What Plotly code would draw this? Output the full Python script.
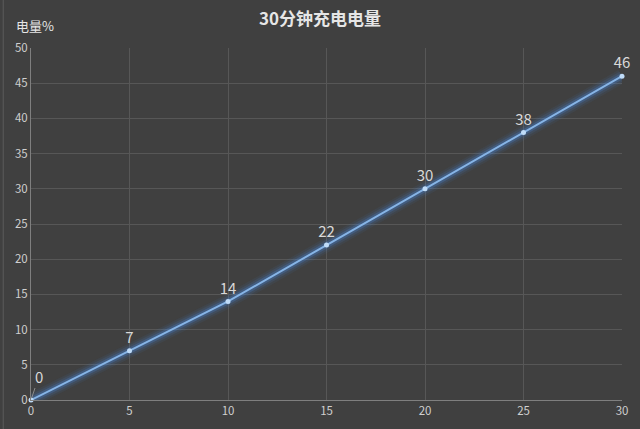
import plotly.graph_objects as go

# 充电时间(分钟)与电量(%)
minutes = [0, 5, 10, 15, 20, 25, 30]
charge = [0, 7, 14, 22, 30, 38, 46]

fig = go.Figure()

# 发光效果: 先画几条宽的半透明线
for w, a in [(14, 0.07), (10, 0.12), (6, 0.25)]:
    fig.add_trace(go.Scatter(
        x=minutes, y=charge, mode="lines",
        line=dict(color=f"rgba(70,140,230,{a})", width=w),
        hoverinfo="skip", showlegend=False, cliponaxis=False
    ))

# 第一个标签用带引线的注释, 其余直接显示在点上方
labels = [""] + [str(v) for v in charge[1:]]
fig.add_trace(go.Scatter(
    x=minutes, y=charge, mode="lines+markers+text",
    line=dict(color="#86b4e6", width=2),
    marker=dict(color="#c0dcf8", size=5),
    text=labels,
    textposition="top center",
    textfont=dict(size=15, color="#d9d9d9"),
    showlegend=False, cliponaxis=False
))

fig.update_layout(
    width=640, height=429,
    paper_bgcolor="#404040",
    plot_bgcolor="#404040",
    margin=dict(l=31, r=18, t=48, b=29, autoexpand=False),
    font=dict(family="Noto Sans CJK SC, sans-serif", color="#d9d9d9"),
    title=dict(text="<b>30分钟充电电量</b>", x=0.5, y=0.955,
               xanchor="center", yanchor="middle",
               font=dict(size=17, color="#e6e6e6")),
    annotations=[
        dict(text="电量%", x=0.007, y=1.065, xref="paper", yref="paper",
             xanchor="center", yanchor="middle", showarrow=False,
             font=dict(size=13, color="#e6e6e6")),
        dict(text=str(charge[0]), x=minutes[0], y=charge[0],
             showarrow=True, arrowhead=0, arrowwidth=1, arrowcolor="#8c8c8c",
             ax=8, ay=-24, standoff=2,
             font=dict(size=15, color="#d9d9d9")),
    ],
    # 图片左边的细边框
    shapes=[dict(type="line", xref="paper", yref="paper",
                 x0=-0.047, x1=-0.047, y0=-0.1, y1=1.2,
                 line=dict(color="#5a5a5a", width=1))]
)
fig.update_xaxes(range=[0, 30], dtick=5, showgrid=True, gridcolor="#575757",
                 zeroline=False, showline=True, linecolor="#7f7f7f",
                 tickfont=dict(size=11.5, color="#cfcfcf"), ticks="", automargin=False)
fig.update_yaxes(range=[0, 50], dtick=5, showgrid=True, gridcolor="#575757",
                 zeroline=False, showline=True, linecolor="#7f7f7f",
                 tickfont=dict(size=11.5, color="#cfcfcf"), ticks="", automargin=False)

# 去掉页面默认的 8px 边距
fig.write_html("out.html", config={"displayModeBar": False},
               post_script="document.body.style.margin='0';")
